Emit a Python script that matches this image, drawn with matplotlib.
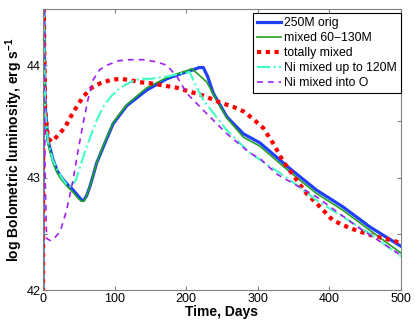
import matplotlib
matplotlib.use("Agg")
from matplotlib import pyplot as plt

plt.rcParams['font.family'] = ['Liberation Sans', 'DejaVu Sans']
plt.rcParams['mathtext.fontset'] = 'custom'
plt.rcParams['mathtext.rm'] = 'Liberation Sans'
plt.rcParams['mathtext.bf'] = 'Liberation Sans:bold'

# light curves (days, log L)
t_orig = [0, 0.5, 1.5, 3, 7, 14, 20, 26, 34, 42, 50, 54, 57, 61, 66, 75, 84, 98, 117, 145, 173, 195, 210, 218, 224, 230, 238, 257, 280, 303, 345, 382, 419, 457, 500]
L_orig = [41.5, 45.5, 44.3, 43.64, 43.33, 43.16, 43.06, 43.0, 42.94, 42.89, 42.83, 42.80, 42.80, 42.84, 42.93, 43.13, 43.27, 43.48, 43.64, 43.78, 43.88, 43.93, 43.96, 43.98, 43.98, 43.9, 43.75, 43.54, 43.39, 43.31, 43.08, 42.89, 42.74, 42.56, 42.39]

t_mix = [0, 0.5, 1.5, 3, 7, 14, 20, 26, 34, 42, 50, 54, 57, 61, 66, 75, 84, 98, 117, 145, 173, 190, 200, 208, 215, 229, 238, 257, 280, 303, 345, 382, 419, 457, 500]
L_mix = [41.5, 45.5, 44.3, 43.6, 43.3, 43.13, 43.04, 42.98, 42.92, 42.87, 42.81, 42.79, 42.79, 42.84, 42.93, 43.13, 43.28, 43.49, 43.65, 43.8, 43.89, 43.93, 43.95, 43.97, 43.93, 43.85, 43.74, 43.53, 43.36, 43.28, 43.05, 42.86, 42.71, 42.53, 42.33]

t_total = [0, 0.5, 1.5, 3, 7, 12, 20, 31, 42, 56, 68, 80, 95, 108, 120, 135, 150, 187, 224, 247, 266, 280, 294, 308, 322, 336, 352, 368, 387, 405, 429, 457, 482, 500]
L_total = [41.5, 45.5, 44.3, 43.6, 43.35, 43.32, 43.37, 43.45, 43.58, 43.72, 43.8, 43.84, 43.87, 43.88, 43.87, 43.85, 43.84, 43.8, 43.73, 43.67, 43.63, 43.59, 43.52, 43.44, 43.3, 43.14, 43.0, 42.86, 42.74, 42.62, 42.55, 42.49, 42.45, 42.42]

t_ni120 = [0, 0.5, 1.5, 3, 7, 14, 26, 34, 40, 46, 52, 59, 66, 75, 84, 96, 108, 122, 135, 150, 173, 195, 205, 212, 224, 257, 289, 303, 345, 382, 419, 457, 500]
L_ni120 = [41.5, 45.5, 44.3, 43.6, 43.32, 43.15, 43.0, 42.93, 42.92, 42.98, 43.1, 43.24, 43.36, 43.51, 43.63, 43.73, 43.8, 43.85, 43.88, 43.88, 43.9, 43.93, 43.94, 43.84, 43.69, 43.42, 43.22, 43.16, 42.98, 42.8, 42.65, 42.5, 42.3]

t_nio = [0, 0.5, 1.5, 3, 5, 10, 17, 24, 33, 40, 42, 49, 56, 63, 70, 79, 89, 105, 121, 140, 159, 173, 187, 201, 224, 257, 289, 303, 327, 382, 440, 500]
L_nio = [41.5, 45.5, 44.0, 43.0, 42.46, 42.44, 42.47, 42.52, 42.71, 42.92, 42.98, 43.24, 43.48, 43.7, 43.87, 43.96, 44.0, 44.04, 44.05, 44.05, 44.03, 44.0, 43.9, 43.75, 43.6, 43.39, 43.22, 43.17, 43.03, 42.83, 42.56, 42.31]

fig = plt.figure(figsize=(4.15, 3.26), dpi=100)
ax = fig.add_axes([0.1036, 0.1104, 0.8624, 0.8616])

ax.plot(t_orig, L_orig, color="#1f3fff", lw=2.3, label="250M orig")
ax.plot(t_mix, L_mix, color="#22a022", lw=1.2, label="mixed 60\u2212130M")
ax.plot(t_total, L_total, color="#ff0000", lw=3.0, dashes=(1, 1.1), label="totally mixed")
ax.plot(t_ni120, L_ni120, color="#40ffc0", lw=1.5, ls="-.", label="Ni mixed up to 120M")
ax.plot(t_nio, L_nio, color="#a020f0", lw=1.2, dashes=(3.5, 3), label="Ni mixed into O")

ax.set_xlim(0, 500)
ax.set_ylim(42, 44.5)
ax.set_xticks([0, 100, 200, 300, 400, 500])
ax.set_yticks([42, 42.5, 43, 43.5, 44, 44.5])
ax.set_yticklabels(["42", "", "43", "", "44", ""])
ax.tick_params(direction="in", length=3, labelsize=9, top=True, right=True, color="#808080", pad=2)
for s in ax.spines.values():
    s.set_color("#808080")

ax.set_xlabel("Time, Days", fontsize=10, fontweight="bold", labelpad=0)
ax.set_ylabel(r"log Bolometric luminosity, erg s$^{\mathbf{-1}}$", fontsize=10, fontweight="bold", labelpad=1)

leg = ax.legend(loc="upper right", bbox_to_anchor=(1.0, 0.985), borderaxespad=0, fontsize=8.8,
                fancybox=False, framealpha=1, edgecolor="black", handlelength=2.0,
                handletextpad=0.25, labelspacing=0.25, borderpad=0.3)
leg.get_frame().set_linewidth(0.8)

fig.savefig("out.png", dpi=100)
